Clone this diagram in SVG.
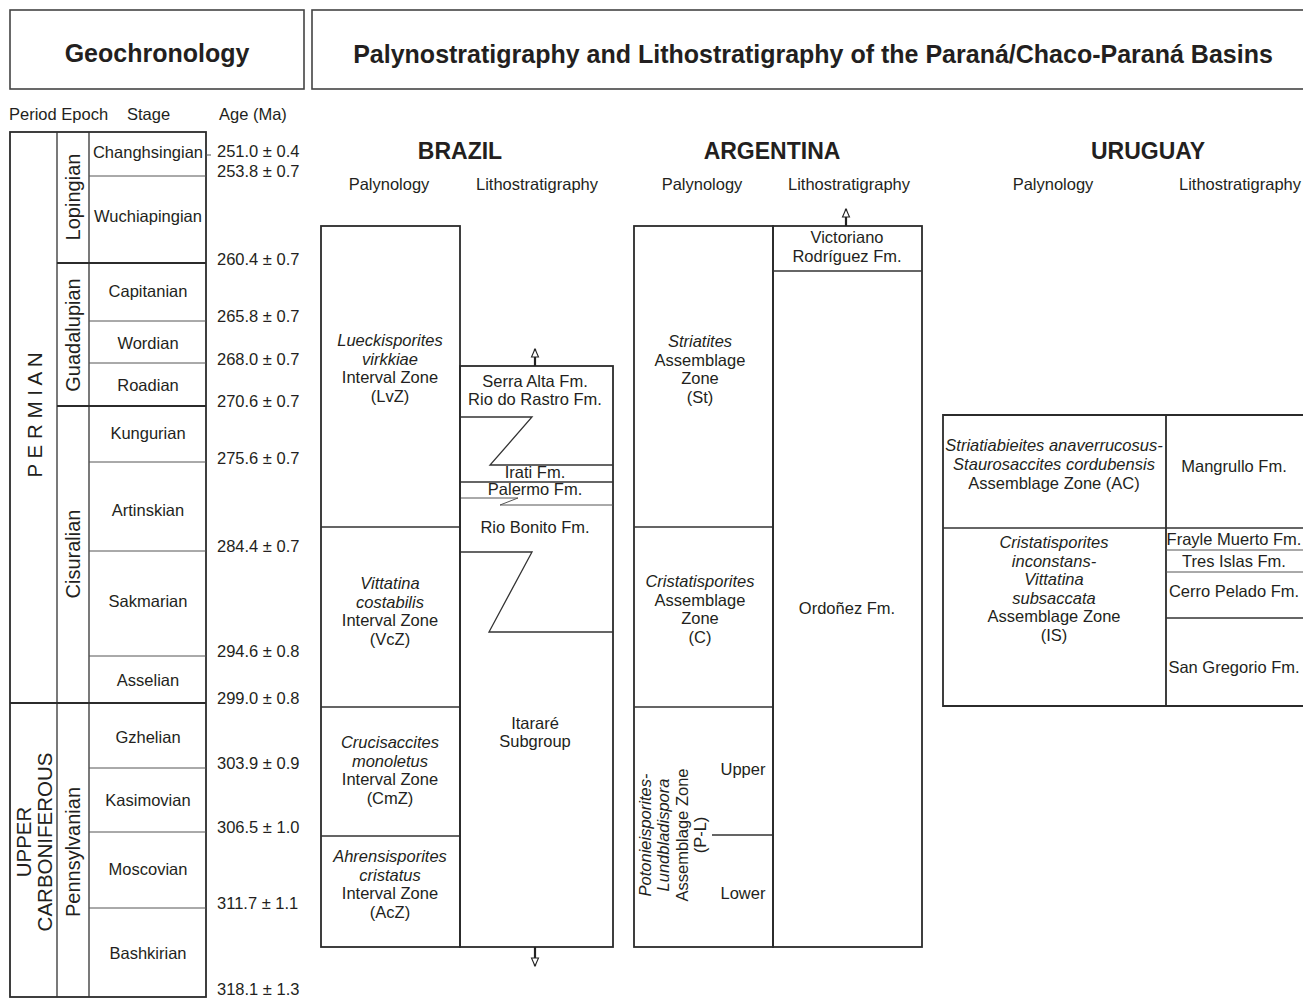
<svg xmlns="http://www.w3.org/2000/svg" width="1303" height="998" viewBox="0 0 1303 998">
<style>
text{font-family:"Liberation Sans",Arial,Helvetica,sans-serif;font-size:16.5px;fill:#231f20}
.c{text-anchor:middle}
.i{font-style:italic}
.b{font-weight:bold}
.h1{font-size:25px;font-weight:bold}
.h2{font-size:23px;font-weight:bold}
.big{font-size:20.5px}
.ep{font-size:20px}
.box{fill:none;stroke:#2b2b2b;stroke-width:1.8}
.hd{fill:none;stroke:#444;stroke-width:1.6}
.ln{fill:none;stroke:#333;stroke-width:1.3}
.th{fill:none;stroke:#555;stroke-width:1}
</style>
<defs>
<marker id="oa" markerUnits="userSpaceOnUse" markerWidth="10" markerHeight="10" viewBox="0 0 10 10" refX="9" refY="5" orient="auto">
<path d="M1,1.5 L9,5 L1,8.5 z" fill="#fff" stroke="#222" stroke-width="1.1"/>
</marker>
</defs>
<rect width="1303" height="998" fill="#fff"/>

<g id="header-geochronology">
<rect class="hd" x="10" y="10" width="294" height="79"/>
<text class="c h1" x="157" y="62">Geochronology</text>
</g>
<g id="header-main">
<rect class="hd" x="312" y="10" width="1010" height="79"/>
<text class="c h1" x="813" y="63">Palynostratigraphy and Lithostratigraphy of the Paraná/Chaco-Paraná Basins</text>
</g>

<g id="column-headers">
<text x="9" y="120">Period Epoch</text>
<text x="127" y="120">Stage</text>
<text x="219" y="120">Age (Ma)</text>
</g>

<g id="geochronology">
<rect class="box" x="10" y="132" width="196" height="865"/>
<path class="ln" d="M57,132V997M89,132V997"/>
<path class="box" d="M10,703H206M57,263H206M57,406H206"/>
<path class="th" d="M89,176H206M89,321H206M89,363H206M89,462H206M89,551H206M89,656H206M89,768H206M89,832H206M89,908H206"/>
<path class="th" d="M206,155H211"/>
<text class="big" transform="translate(42,415) rotate(-90)" text-anchor="middle">P E R M I A N</text>
<text class="big" transform="translate(31,842) rotate(-90)" text-anchor="middle">UPPER</text>
<text class="big" transform="translate(52,842) rotate(-90)" text-anchor="middle">CARBONIFEROUS</text>
<text class="ep" transform="translate(80,197) rotate(-90)" text-anchor="middle">Lopingian</text>
<text class="ep" transform="translate(80,335) rotate(-90)" text-anchor="middle">Guadalupian</text>
<text class="ep" transform="translate(80,554) rotate(-90)" text-anchor="middle">Cisuralian</text>
<text class="ep" transform="translate(80,852) rotate(-90)" text-anchor="middle">Pennsylvanian</text>
<text class="c" x="148" y="158">Changhsingian</text>
<text class="c" x="148" y="222">Wuchiapingian</text>
<text class="c" x="148" y="297">Capitanian</text>
<text class="c" x="148" y="349">Wordian</text>
<text class="c" x="148" y="391">Roadian</text>
<text class="c" x="148" y="439">Kungurian</text>
<text class="c" x="148" y="516">Artinskian</text>
<text class="c" x="148" y="607">Sakmarian</text>
<text class="c" x="148" y="686">Asselian</text>
<text class="c" x="148" y="743">Gzhelian</text>
<text class="c" x="148" y="806">Kasimovian</text>
<text class="c" x="148" y="875">Moscovian</text>
<text class="c" x="148" y="959">Bashkirian</text>
</g>

<g id="ages">
<text x="217" y="157">251.0 ± 0.4</text>
<text x="217" y="177">253.8 ± 0.7</text>
<text x="217" y="265">260.4 ± 0.7</text>
<text x="217" y="322">265.8 ± 0.7</text>
<text x="217" y="365">268.0 ± 0.7</text>
<text x="217" y="407">270.6 ± 0.7</text>
<text x="217" y="464">275.6 ± 0.7</text>
<text x="217" y="552">284.4 ± 0.7</text>
<text x="217" y="657">294.6 ± 0.8</text>
<text x="217" y="704">299.0 ± 0.8</text>
<text x="217" y="769">303.9 ± 0.9</text>
<text x="217" y="833">306.5 ± 1.0</text>
<text x="217" y="909">311.7 ± 1.1</text>
<text x="217" y="995">318.1 ± 1.3</text>
</g>

<g id="country-headers">
<text class="c h2" x="460" y="159">BRAZIL</text>
<text class="c h2" x="772" y="159">ARGENTINA</text>
<text class="c h2" x="1148" y="159">URUGUAY</text>
<text class="c" x="389" y="190">Palynology</text>
<text class="c" x="537" y="190">Lithostratigraphy</text>
<text class="c" x="702" y="190">Palynology</text>
<text class="c" x="849" y="190">Lithostratigraphy</text>
<text class="c" x="1053" y="190">Palynology</text>
<text class="c" x="1240" y="190">Lithostratigraphy</text>
</g>

<g id="brazil-palynology">
<rect class="box" x="321" y="226" width="139" height="721"/>
<path class="ln" d="M321,527H460M321,707H460M321,836H460"/>
<text class="c i" x="390" y="346">Lueckisporites</text>
<text class="c i" x="390" y="364.5">virkkiae</text>
<text class="c" x="390" y="383">Interval Zone</text>
<text class="c" x="390" y="401.5">(LvZ)</text>
<text class="c i" x="390" y="589">Vittatina</text>
<text class="c i" x="390" y="607.5">costabilis</text>
<text class="c" x="390" y="626">Interval Zone</text>
<text class="c" x="390" y="644.5">(VcZ)</text>
<text class="c i" x="390" y="748">Crucisaccites</text>
<text class="c i" x="390" y="766.5">monoletus</text>
<text class="c" x="390" y="785">Interval Zone</text>
<text class="c" x="390" y="803.5">(CmZ)</text>
<text class="c i" x="390" y="862">Ahrensisporites</text>
<text class="c i" x="390" y="880.5">cristatus</text>
<text class="c" x="390" y="899">Interval Zone</text>
<text class="c" x="390" y="917.5">(AcZ)</text>
</g>

<g id="brazil-lithostratigraphy">
<rect class="box" x="460" y="366" width="153" height="581"/>
<path class="ln" d="M461,417H532L490,465H613"/>
<path class="ln" d="M461,482H613"/>
<path class="th" d="M461,498H518L500,505H613"/>
<path class="ln" d="M461,552H532L489,632H613"/>
<text class="c" x="535" y="387">Serra Alta Fm.</text>
<text class="c" x="535" y="405">Rio do Rastro Fm.</text>
<text class="c" x="535" y="478">Irati Fm.</text>
<text class="c" x="535" y="495">Palermo Fm.</text>
<text class="c" x="535" y="533">Rio Bonito Fm.</text>
<text class="c" x="535" y="729">Itararé</text>
<text class="c" x="535" y="747">Subgroup</text>
</g>

<g id="argentina-palynology">
<rect class="box" x="634" y="226" width="139" height="721"/>
<path class="ln" d="M634,527H773M634,707H773M712,835H773"/>
<text class="c i" x="700" y="347">Striatites</text>
<text class="c" x="700" y="365.5">Assemblage</text>
<text class="c" x="700" y="384">Zone</text>
<text class="c" x="700" y="402.5">(St)</text>
<text class="c i" x="700" y="587">Cristatisporites</text>
<text class="c" x="700" y="605.5">Assemblage</text>
<text class="c" x="700" y="624">Zone</text>
<text class="c" x="700" y="642.5">(C)</text>
<text class="i" transform="translate(651,835) rotate(-90)" text-anchor="middle">Potonieisporites-</text>
<text class="i" transform="translate(669,835) rotate(-90)" text-anchor="middle">Lundbladispora</text>
<text transform="translate(687.5,835) rotate(-90)" text-anchor="middle">Assemblage Zone</text>
<text transform="translate(706,835) rotate(-90)" text-anchor="middle">(P-L)</text>
<text class="c" x="743" y="775">Upper</text>
<text class="c" x="743" y="899">Lower</text>
</g>

<g id="argentina-lithostratigraphy">
<rect class="box" x="773" y="226" width="149" height="721"/>
<path class="ln" d="M773,271H922"/>
<text class="c" x="847" y="243">Victoriano</text>
<text class="c" x="847" y="262">Rodríguez Fm.</text>
<text class="c" x="847" y="614">Ordoñez Fm.</text>
</g>

<g id="uruguay-palynology">
<path class="box" d="M1320,415H943V706H1320M1166,415V706"/>
<path class="ln" d="M943,528H1320"/>
<text class="c i" x="1054" y="451">Striatiabieites anaverrucosus-</text>
<text class="c i" x="1054" y="470">Staurosaccites cordubensis</text>
<text class="c" x="1054" y="489">Assemblage Zone (AC)</text>
<text class="c i" x="1054" y="548">Cristatisporites</text>
<text class="c i" x="1054" y="566.5">inconstans-</text>
<text class="c i" x="1054" y="585">Vittatina</text>
<text class="c i" x="1054" y="603.5">subsaccata</text>
<text class="c" x="1054" y="622">Assemblage Zone</text>
<text class="c" x="1054" y="640.5">(IS)</text>
</g>

<g id="uruguay-lithostratigraphy">
<path class="th" d="M1166,550H1320M1166,572H1320"/>
<path class="ln" d="M1166,618H1320"/>
<text class="c" x="1234" y="472">Mangrullo Fm.</text>
<text class="c" x="1234" y="545">Frayle Muerto Fm.</text>
<text class="c" x="1234" y="567">Tres Islas Fm.</text>
<text class="c" x="1234" y="597">Cerro Pelado Fm.</text>
<text class="c" x="1234" y="673">San Gregorio Fm.</text>
</g>

<g id="connectors" fill="none" stroke="#222" stroke-width="2.2">
<line x1="535" y1="366" x2="535" y2="349" marker-end="url(#oa)"/>
<line x1="535" y1="947" x2="535" y2="966" marker-end="url(#oa)"/>
<line x1="846" y1="226" x2="846" y2="209" marker-end="url(#oa)"/>
</g>
</svg>
